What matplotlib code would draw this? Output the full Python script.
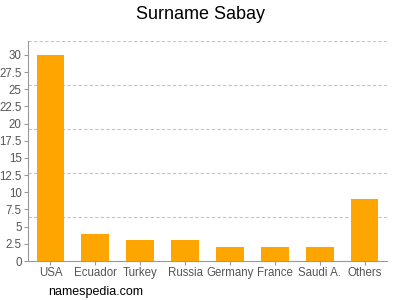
import matplotlib
matplotlib.use("Agg")
import matplotlib.pyplot as plt

# Data
countries = ["USA", "Ecuador", "Turkey", "Russia", "Germany", "France", "Saudi A.", "Others"]
counts = [30, 4, 3, 3, 2, 2, 2, 9]
y_ticks = [0, 2.5, 5, 7.5, 10, 12.5, 15, 17.5, 20, 22.5, 25, 27.5, 30]
y_tick_labels = ["0", "2.5", "5", "7.5", "10", "12.5", "15", "17.5", "20", "22.5", "25", "27.5", "30"]
grid_levels = [6.4, 12.8, 19.2, 25.6, 32]

plt.rcParams['font.family'] = ['Liberation Sans', 'DejaVu Sans']

fig = plt.figure(figsize=(4, 3), dpi=100)
ax = fig.add_axes([0.07, 0.13, 0.8975, 0.733])

x = list(range(len(countries)))
ax.bar(x, counts, width=0.62, color="#FFA500", zorder=3)

for g in grid_levels:
    ax.axhline(g, color="#c4c4c4", linestyle=(0, (3, 2)), linewidth=0.8, zorder=1)

ax.set_xlim(-0.5, len(countries) - 0.5)
ax.set_ylim(0, 32)
ax.set_yticks(y_ticks)
ax.set_yticklabels(y_tick_labels)
ax.set_xticks(x)
ax.set_xticklabels(countries)

for side in ["top", "right"]:
    ax.spines[side].set_visible(False)
for side in ["left", "bottom"]:
    ax.spines[side].set_color("#999999")
    ax.spines[side].set_linewidth(0.8)

ax.tick_params(axis="both", colors="#999999", labelcolor="#555555", labelsize=8.3, length=3, width=0.8, pad=1.5)

fig.text(0.5, 0.953, "Surname Sabay", ha="center", va="center", fontsize=13, color="#000000")
fig.text(0.12, 0.027, "namespedia.com", ha="left", va="center", fontsize=9, color="#000000")

plt.savefig("out.png", dpi=100)
